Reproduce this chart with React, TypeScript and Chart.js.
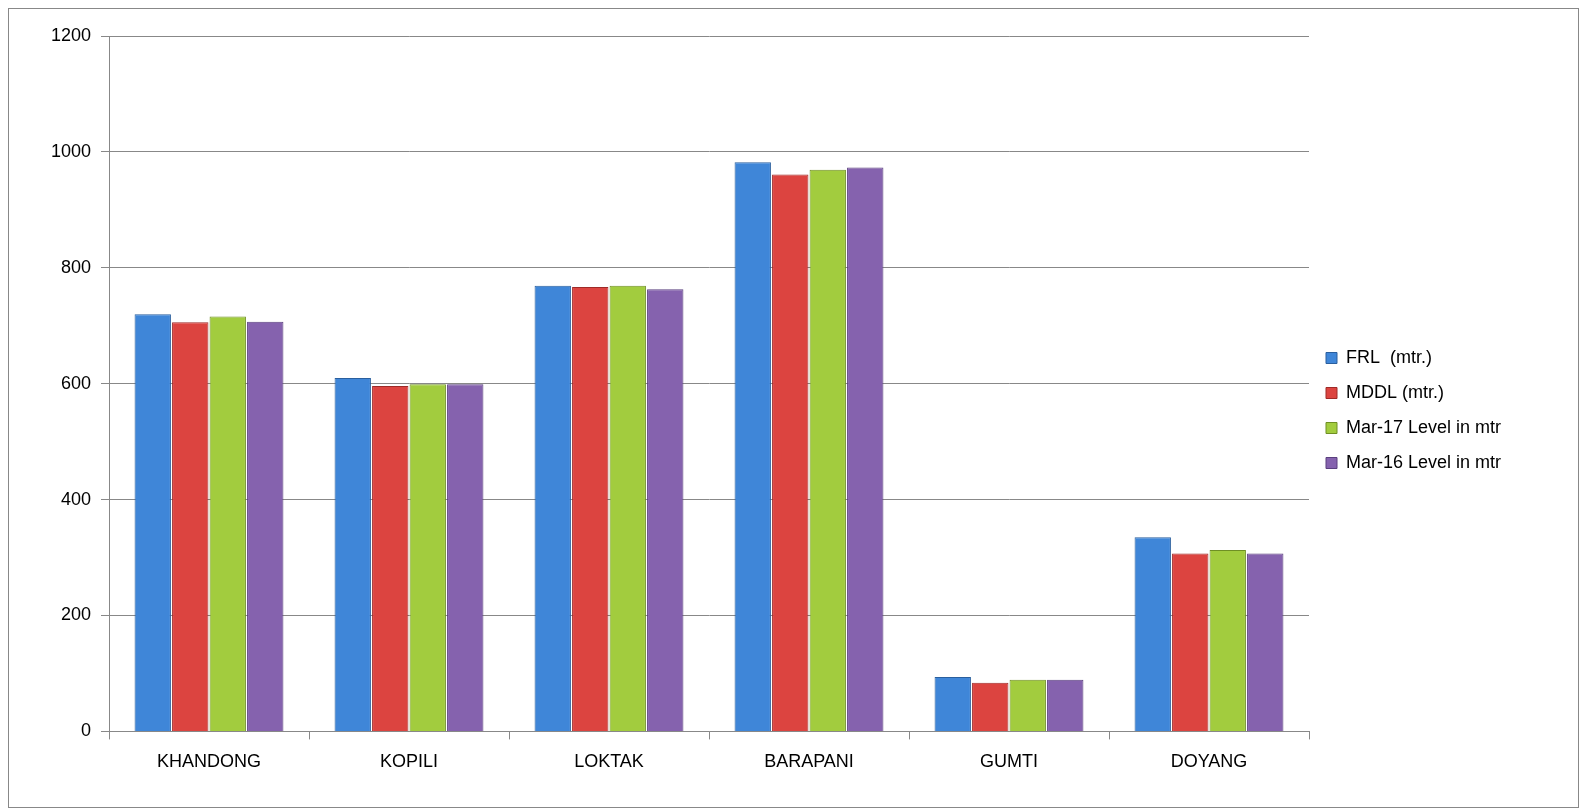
import React, { useEffect, useRef } from "react";
import { Chart, registerables } from "chart.js";
Chart.register(...registerables);

const categories = ["KHANDONG", "KOPILI", "LOKTAK", "BARAPANI", "GUMTI", "DOYANG"];
const frl = [720, 610, 769, 982, 94, 335];
const mddl = [706, 596, 767, 961, 84, 307];
const mar17 = [716, 599, 769, 969, 89, 313];
const mar16 = [707, 599, 763, 973, 89, 307];
const seriesNames = ["FRL  (mtr.)", "MDDL (mtr.)", "Mar-17 Level in mtr", "Mar-16 Level in mtr"];
const colors = ["#3f86d8", "#dc4440", "#a2cc3e", "#8562ae"];
const borders = ["#2a5f9e", "#9e2a27", "#6f8f24", "#5a3f7e"];

const widenLegend = {
  id: "widenLegend",
  beforeLayout(chart: any) {
    const lg = chart.legend;
    if (lg && !lg.__patched) {
      const orig = lg.fit;
      lg.fit = function () {
        orig.call(this);
        this.width = 259;
      };
      lg.__patched = true;
    }
  },
};

export default function App() {
  const ref = useRef<HTMLCanvasElement>(null);
  useEffect(() => {
    const data = [frl, mddl, mar17, mar16];
    const chart = new Chart(ref.current!, {
      type: "bar",
      data: {
        labels: categories,
        datasets: data.map((d, i) => ({
          label: seriesNames[i],
          data: d,
          backgroundColor: colors[i],
          borderColor: borders[i],
          borderWidth: 1,
          barPercentage: 0.97,
          categoryPercentage: 0.75,
        })),
      },
      plugins: [widenLegend],
      options: {
        animation: false,
        responsive: true,
        maintainAspectRatio: false,
        layout: { padding: { left: 20, right: 10, top: 27, bottom: 22 } },
        plugins: {
          tooltip: { enabled: false },
          legend: {
            position: "right",
            labels: { boxWidth: 11, boxHeight: 11, padding: 17, color: "#000", font: { family: "Liberation Sans", size: 18 } },
          },
        },
        scales: {
          x: {
            grid: { offset: true, drawOnChartArea: false, color: "#888", tickLength: 8 },
            border: { color: "#888" },
            ticks: { color: "#000", padding: 12, font: { family: "Liberation Sans", size: 18 } },
          },
          y: {
            min: 0, max: 1200,
            afterFit: (s: any) => { s.width = 80; },
            ticks: { stepSize: 200, color: "#000", padding: 10, callback: (v: any) => String(v), font: { family: "Liberation Sans", size: 18 } },
            grid: { color: "#888", tickLength: 8 },
            border: { color: "#888" },
          },
        },
      },
    });
    return () => chart.destroy();
  }, []);
  return (
    <div style={{ border: "1px solid #888", height: 800, boxSizing: "border-box", position: "relative" }}>
      <canvas ref={ref} />
    </div>
  );
}
